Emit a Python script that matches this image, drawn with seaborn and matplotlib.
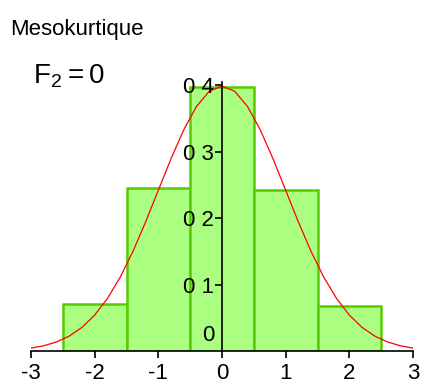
import numpy as np
import matplotlib
matplotlib.use('Agg')
import matplotlib.pyplot as plt
import seaborn as sns

# histogram classes (width 1) and their relative frequencies
bin_edges = [-2.5, -1.5, -0.5, 0.5, 1.5, 2.5]
bin_centers = [-2.0, -1.0, 0.0, 1.0, 2.0]
bin_heights = [0.071, 0.245, 0.398, 0.242, 0.068]

# normal density curve
curve_x = [-3.0, -2.8, -2.6, -2.4, -2.2, -2.0, -1.8, -1.6, -1.4, -1.2, -1.0,
           -0.8, -0.6, -0.4, -0.2, 0.0, 0.2, 0.4, 0.6, 0.8, 1.0, 1.2, 1.4,
           1.6, 1.8, 2.0, 2.2, 2.4, 2.6, 2.8, 3.0]
curve_y = [0.0044, 0.0079, 0.0136, 0.0224, 0.0355, 0.0540, 0.0790, 0.1109,
           0.1497, 0.1942, 0.2420, 0.2897, 0.3332, 0.3683, 0.3910, 0.3989,
           0.3910, 0.3683, 0.3332, 0.2897, 0.2420, 0.1942, 0.1497, 0.1109,
           0.0790, 0.0540, 0.0355, 0.0224, 0.0136, 0.0079, 0.0044]

x_ticks = [-3, -2, -1, 0, 1, 2, 3]
y_ticks = [0.1, 0.2, 0.3, 0.4]
y_labels = ['0 1', '0 2', '0 3', '0 4']

sns.set_style('white')
plt.rcParams['font.family'] = ['Liberation Sans', 'DejaVu Sans']
plt.rcParams['text.color'] = 'black'
plt.rcParams['xtick.color'] = 'black'
plt.rcParams['ytick.color'] = 'black'

fig = plt.figure(figsize=(4.21, 3.85), dpi=100)
ax = fig.add_axes([31 / 421, 1 - 351 / 385, 382 / 421, 269 / 385])

sns.histplot(x=bin_centers, weights=bin_heights, bins=bin_edges, ax=ax,
             color='#aaff80', edgecolor='#55cc00', linewidth=1.8, alpha=1)
sns.lineplot(x=curve_x, y=curve_y, ax=ax, color='red', linewidth=0.9)

ax.set_xlim(-3, 3)
ax.set_ylim(0, 0.405)
ax.set_xlabel('')
ax.set_ylabel('')
ax.set_axisbelow(False)

for s in ['top', 'right']:
    ax.spines[s].set_visible(False)
ax.spines['left'].set_position(('data', 0))
ax.spines['left'].set_zorder(5)
ax.spines['left'].set_color('black')
ax.spines['bottom'].set_color('black')
ax.spines['left'].set_linewidth(1.2)
ax.spines['bottom'].set_linewidth(1.2)

ax.set_xticks(x_ticks)
ax.set_xticklabels([str(t) for t in x_ticks], fontsize=16)
ax.set_yticks(y_ticks)
ax.set_yticklabels(y_labels, fontsize=16)
ax.tick_params(axis='both', direction='out', length=5, width=1.2,
               color='black', labelcolor='black', left=True, bottom=True)
ax.tick_params(axis='y', pad=1)
ax.text(-0.12, 0.024, '0', fontsize=16, ha='right', va='center', zorder=6)

fig.text(10 / 421, 1 - 30 / 385, 'Mesokurtique', fontsize=16, va='center')
fig.text(33 / 421, 1 - 76 / 385, r'$\mathregular{F_2 = 0}$', fontsize=20,
         va='center')

fig.savefig('out.png', dpi=100)
